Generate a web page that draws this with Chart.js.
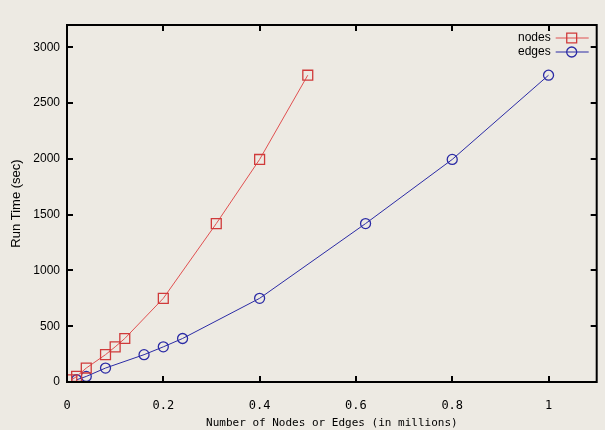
<!DOCTYPE html>
<html>
<head>
<meta charset="utf-8">
<script src="https://cdn.jsdelivr.net/npm/chart.js@4"></script>
<style>
html,body{margin:0;padding:0;background:#EDEAE3;}
#wrap{width:605px;height:430px;position:relative;}
</style>
</head>
<body>
<div id="wrap"><canvas id="c" width="605" height="430"></canvas></div>
<script>
const runTimes = [20, 50, 125, 245, 315, 390, 750, 1420, 1995, 2750];
const nodesMillions = [0.01, 0.02, 0.04, 0.08, 0.1, 0.12, 0.2, 0.31, 0.4, 0.5];
const edgesMillions = [0.02, 0.04, 0.08, 0.16, 0.2, 0.24, 0.4, 0.62, 0.8, 1.0];
const xTicks = [0, 0.2, 0.4, 0.6, 0.8, 1];
const yTicks = [0, 500, 1000, 1500, 2000, 2500, 3000];
const seriesNames = ['nodes', 'edges'];

const RED = '#D03A3A', RED_LINE = '#E05050';
const BLUE = '#2B2BA5';

function pts(xs, ys){ return xs.map((x,i)=>({x:x, y:ys[i]})); }

const frameTicks = {
  id:'frameTicks',
  afterDraw(chart){
    const ctx = chart.ctx, a = chart.chartArea;
    const xs = chart.scales.x, ys = chart.scales.y;
    ctx.save();
    ctx.strokeStyle = '#000';
    ctx.lineWidth = 2;
    ctx.strokeRect(a.left, a.top, a.right-a.left, a.bottom-a.top);
    ctx.beginPath();
    xTicks.forEach(v=>{
      const p = Math.round(xs.getPixelForValue(v));
      ctx.moveTo(p, a.bottom); ctx.lineTo(p, a.bottom-6);
      ctx.moveTo(p, a.top); ctx.lineTo(p, a.top+6);
    });
    yTicks.forEach(v=>{
      const p = Math.round(ys.getPixelForValue(v));
      ctx.moveTo(a.left, p); ctx.lineTo(a.left+6, p);
      ctx.moveTo(a.right, p); ctx.lineTo(a.right-6, p);
    });
    ctx.stroke();
    // legend
    const entries = [
      {name:seriesNames[0], line:RED_LINE, mark:RED, style:'rect', r:7},
      {name:seriesNames[1], line:BLUE, mark:BLUE, style:'circle', r:5}
    ];
    ctx.font = '12px "Liberation Sans", Arial, sans-serif';
    ctx.textAlign = 'right';
    ctx.textBaseline = 'middle';
    entries.forEach((e,i)=>{
      const y = a.top + 13 + i*14;
      ctx.fillStyle = '#000';
      ctx.fillText(e.name, a.right-46, y);
      ctx.strokeStyle = e.line; ctx.lineWidth = 1;
      ctx.beginPath(); ctx.moveTo(a.right-41, y); ctx.lineTo(a.right-8, y); ctx.stroke();
      ctx.strokeStyle = e.mark; ctx.lineWidth = 1.3;
      ctx.fillStyle = 'rgba(0,0,0,0)';
      Chart.helpers.drawPoint(ctx, {pointStyle:e.style, radius:e.r, borderWidth:1.3}, a.right-25, y);
    });
    ctx.restore();
  }
};

new Chart(document.getElementById('c'), {
  type: 'scatter',
  data: {
    datasets: [
      {label: seriesNames[0], data: pts(nodesMillions, runTimes), showLine:true,
       borderColor: RED_LINE, borderWidth:1, pointStyle:'rect', pointRadius:7,
       pointBorderColor: RED, pointBackgroundColor:'rgba(0,0,0,0)', pointBorderWidth:1.3, tension:0},
      {label: seriesNames[1], data: pts(edgesMillions, runTimes), showLine:true,
       borderColor: BLUE, borderWidth:1, pointStyle:'circle', pointRadius:5,
       pointBorderColor: BLUE, pointBackgroundColor:'rgba(0,0,0,0)', pointBorderWidth:1.3, tension:0}
    ]
  },
  options: {
    responsive:false, animation:false,
    layout:{padding:{top:25, right:6, left:0, bottom:0}},
    plugins:{legend:{display:false}, tooltip:{enabled:false}},
    scales:{
      x:{type:'linear', min:0, max:1.1,
        afterBuildTicks(s){ s.ticks = xTicks.map(v=>({value:v})); },
        afterFit(s){ s.height = 48; },
        grid:{display:false, drawTicks:false}, border:{display:false},
        ticks:{padding:17, color:'#000', font:{family:'"DejaVu Sans Mono", monospace', size:12},
          callback:v=>String(Math.round(v*10)/10)},
        title:{display:true, text:'Number of Nodes or Edges (in millions)', color:'#000',
          font:{family:'"DejaVu Sans Mono", monospace', size:11}, padding:{top:0, bottom:0}}
      },
      y:{type:'linear', min:0, max:3200,
        afterBuildTicks(s){ s.ticks = yTicks.map(v=>({value:v})); },
        afterFit(s){ s.width = 67; },
        grid:{display:false, drawTicks:false}, border:{display:false},
        ticks:{padding:7, color:'#000', font:{family:'"Liberation Sans", Arial, sans-serif', size:12},
          callback:v=>String(v)},
        title:{display:true, text:'Run Time (sec)', color:'#000',
          font:{family:'"Liberation Sans", Arial, sans-serif', size:13}, padding:{top:9,bottom:0}}
      }
    }
  },
  plugins:[frameTicks]
});
</script>
</body>
</html>
